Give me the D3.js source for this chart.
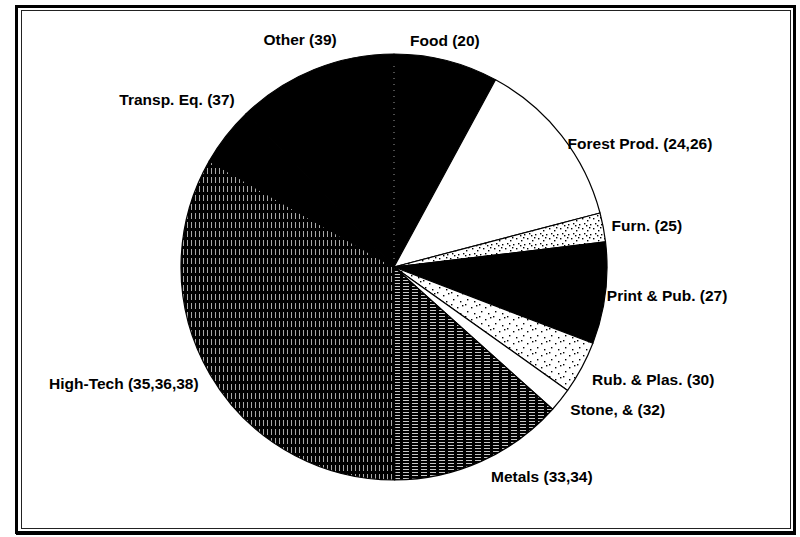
<!DOCTYPE html>
<html><head><meta charset="utf-8">
<script src="https://cdn.jsdelivr.net/npm/d3@7"></script>
<style>
html,body{margin:0;padding:0;background:#fff;}
svg{display:block;}
text{font-family:"Liberation Sans",Arial,sans-serif;font-weight:bold;font-size:15.5px;fill:#000;}
</style>
</head><body>
<svg id="chart" width="800" height="537"></svg>
<script>
// ---- data (shares in % of the pie) ----
const categories = ["Food (20)", "Forest Prod. (24,26)", "Furn. (25)", "Print & Pub. (27)",
  "Rub. & Plas. (30)", "Stone, & (32)", "Metals (33,34)", "High-Tech (35,36,38)",
  "Transp. Eq. (37)", "Other (39)"];
const shares = [7.9, 13.0, 2.2, 7.7, 4.0, 1.8, 13.3, 33.3, 4.5, 12.2];

// ---- styling (kept apart from data) ----
const fillKinds = ["black", "white", "stipple", "black", "stipple2", "white", "hlines", "vlines", "black", "black"];
const labelNudge = [[-13,-1],[12,20],[-3,2],[-10,0],[7,2],[11,-3],[35,-3],[-11,-1],[6,-24],[4,-11]];

const svg = d3.select("#chart");
const cx = 394, cy = 267, R = 213;

// frame
svg.append("rect").attr("x",16.5).attr("y",6.5).attr("width",778).attr("height",526)
  .attr("fill","none").attr("stroke","#000").attr("stroke-width",3);
svg.append("rect").attr("x",16).attr("y",531).attr("width",780).attr("height",4).attr("fill","#000");
svg.append("rect").attr("x",21.5).attr("y",10.5).attr("width",769).attr("height",518)
  .attr("fill","none").attr("stroke","#222").attr("stroke-width",1);

// patterns
const defs = svg.append("defs");
const ph = defs.append("pattern").attr("id","hlines").attr("patternUnits","userSpaceOnUse")
  .attr("width",9).attr("height",3);
ph.append("rect").attr("width",9).attr("height",3).attr("fill","#000");
ph.append("rect").attr("x",0).attr("y",1).attr("width",6).attr("height",1).attr("fill","#c8c8c8");

const pv = defs.append("pattern").attr("id","vlines").attr("patternUnits","userSpaceOnUse")
  .attr("width",4).attr("height",9);
pv.append("rect").attr("width",4).attr("height",9).attr("fill","#000");
pv.append("rect").attr("x",1).attr("y",0).attr("width",1).attr("height",6).attr("fill","#a8a8a8");

function stipple(id, pts, w, h) {
  const p = defs.append("pattern").attr("id",id).attr("patternUnits","userSpaceOnUse")
    .attr("width",w).attr("height",h);
  p.append("rect").attr("width",w).attr("height",h).attr("fill","#fff");
  pts.forEach(([x,y]) => p.append("rect").attr("x",x).attr("y",y)
    .attr("width",1.4).attr("height",1.4).attr("fill","#000"));
}
stipple("stipple", [[1,1],[6,3],[3,6],[9,7],[8,0],[5,8]], 11, 10);
stipple("stipple2", [[1,1],[7,4],[3,8],[10,10],[12,2]], 14, 12);

const fillOf = k => k === "black" ? "#000" : k === "white" ? "#fff" : `url(#${k})`;

const pie = d3.pie().sort(null).value(d => d);
const arcs = pie(shares);
const arc = d3.arc().innerRadius(0).outerRadius(R);

const g = svg.append("g").attr("transform", `translate(${cx},${cy})`);
g.selectAll("path.slice").data(arcs).join("path")
  .attr("class","slice")
  .attr("d", arc)
  .attr("fill", (d,i) => fillOf(fillKinds[i]))
  .attr("stroke", "#000")
  .attr("stroke-width", 1.2)
  .attr("stroke-linejoin","round");

// faint dotted start line (0 deg boundary)
g.append("line").attr("x1",0).attr("y1",-8).attr("x2",0).attr("y2",-R+10)
  .attr("stroke","#fff").attr("stroke-width",1).attr("stroke-dasharray","1,5").attr("opacity",0.6);

// labels
const RL = 225, lh = 16;
const labels = svg.append("g");
arcs.forEach((a,i) => {
  const t = (a.startAngle + a.endAngle)/2;
  const s = Math.sin(t), c = Math.cos(t);
  const txt = labels.append("text").attr("text-anchor","middle")
    .attr("dominant-baseline","central").text(categories[i]);
  const w = txt.node().getComputedTextLength();
  const x = cx + RL*s + w/2*s + labelNudge[i][0];
  const y = cy - RL*c - lh/2*c + labelNudge[i][1];
  txt.attr("x", x).attr("y", y);
});
</script>
</body></html>
